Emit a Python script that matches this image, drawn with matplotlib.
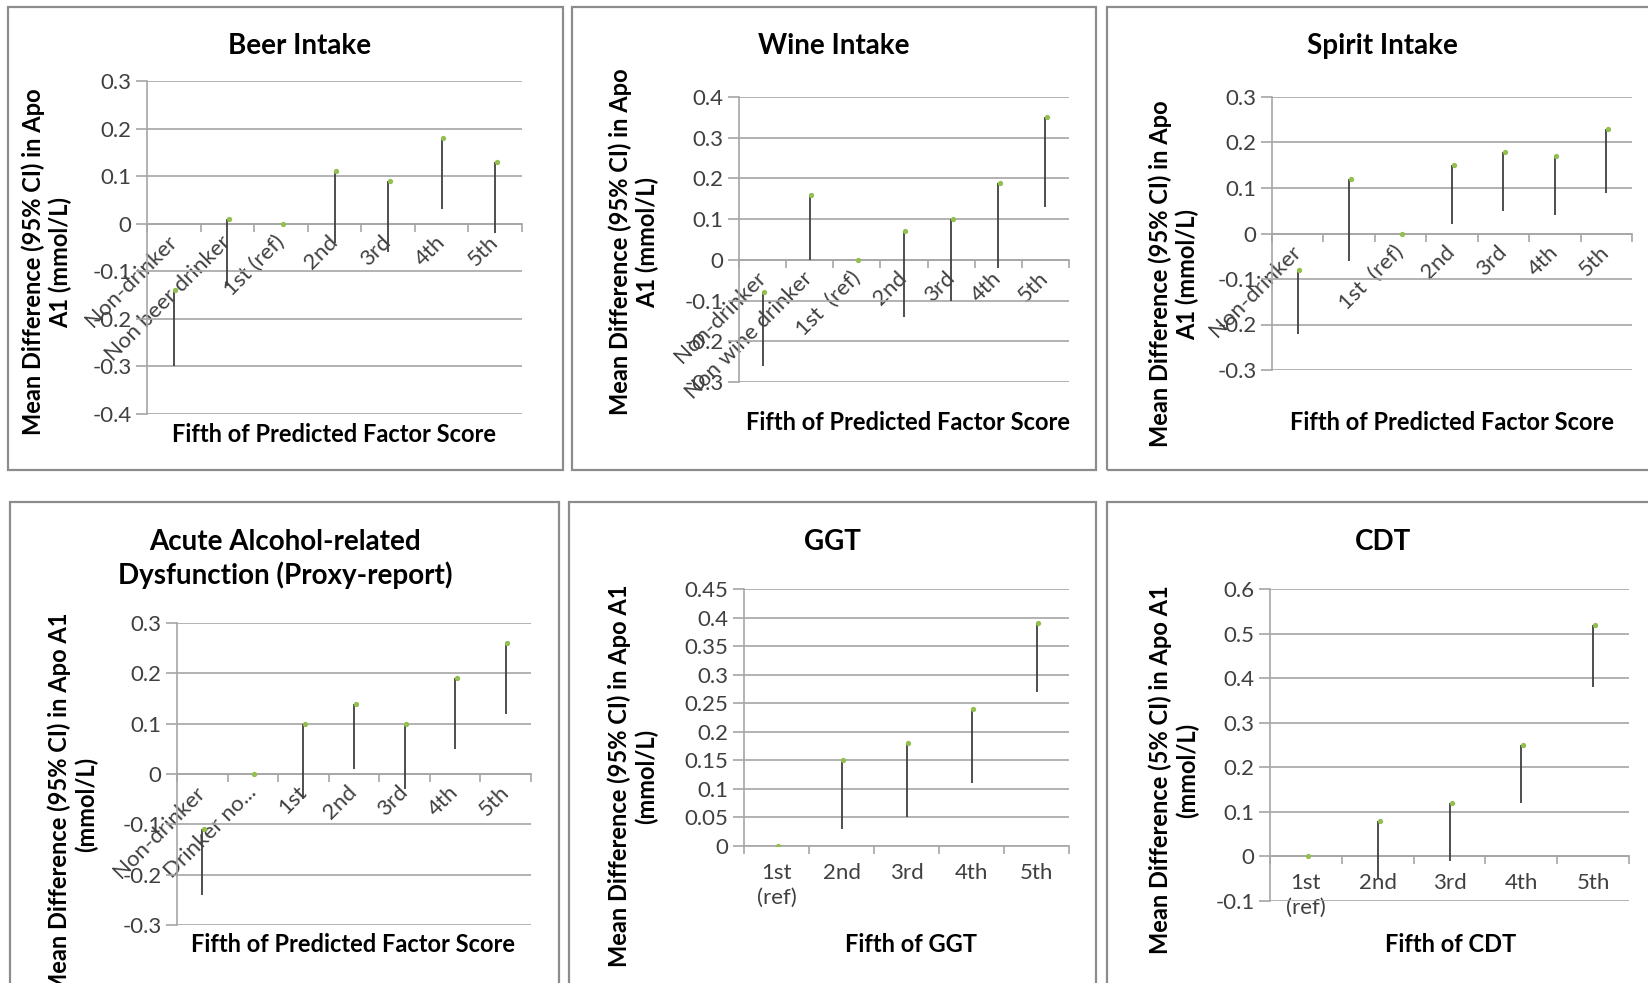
import numpy as np
import matplotlib
matplotlib.use("Agg")
import matplotlib.pyplot as plt
from matplotlib.patches import Rectangle
from matplotlib.ticker import FixedLocator, NullFormatter

plt.rcParams['font.family'] = ['Lato', 'DejaVu Sans']

W, H = 1648, 983

# ---- data ----
beer_cats = ["Non-drinker", "Non beer drinker", "1st (ref)", "2nd", "3rd", "4th", "5th"]
beer_high = [-0.14, 0.01, 0.0, 0.11, 0.09, 0.18, 0.13]
beer_low = [-0.30, -0.13, 0.0, -0.04, -0.06, 0.03, -0.02]

wine_cats = ["Non-drinker", "Non wine drinker", "1st  (ref)", "2nd", "3rd", "4th", "5th"]
wine_high = [-0.08, 0.16, 0.0, 0.07, 0.10, 0.19, 0.35]
wine_low = [-0.26, 0.0, 0.0, -0.14, -0.10, -0.02, 0.13]

spirit_cats = ["Non-drinker", "", "1st  (ref)", "2nd", "3rd", "4th", "5th"]
spirit_high = [-0.08, 0.12, 0.0, 0.15, 0.18, 0.17, 0.23]
spirit_low = [-0.22, -0.06, 0.0, 0.02, 0.05, 0.04, 0.09]

acute_cats = ["Non-drinker", "Drinker no...", "1st", "2nd", "3rd", "4th", "5th"]
acute_high = [-0.11, 0.0, 0.10, 0.14, 0.10, 0.19, 0.26]
acute_low = [-0.24, 0.0, -0.05, 0.01, -0.03, 0.05, 0.12]

ggt_cats = ["1st\n(ref)", "2nd", "3rd", "4th", "5th"]
ggt_high = [0.0, 0.15, 0.18, 0.24, 0.39]
ggt_low = [0.0, 0.03, 0.05, 0.11, 0.27]

cdt_cats = ["1st\n(ref)", "2nd", "3rd", "4th", "5th"]
cdt_high = [0.0, 0.08, 0.12, 0.25, 0.52]
cdt_low = [0.0, -0.05, -0.01, 0.12, 0.38]

YL_95 = "Mean Difference (95% CI) in Apo\nA1 (mmol/L)"
YL_95b = "Mean Difference (95% CI) in Apo A1\n(mmol/L)"
YL_5 = "Mean Difference (5% CI) in Apo A1\n(mmol/L)"
XL_FS = "Fifth of Predicted Factor Score"

GRID = "#a6a6a6"
LINE = "#404040"
GREEN = "#92c050"
TXT = "#404040"

fig = plt.figure(figsize=(W / 100, H / 100), dpi=100)


def px_text(x, y, s, **kw):
    fig.text(x / W, 1 - y / H, s, **kw)


def panel(box, plot, title, title_xy, ylabel, ylabel_xy, xlabel, xlabel_xy,
          cats, high, low, yticks, rotated=True):
    # outer frame
    x0, y0, x1, y1 = box
    fig.patches.append(Rectangle((x0 / W, 1 - y1 / H), (x1 - x0) / W, (y1 - y0) / H,
                                 transform=fig.transFigure, fill=False,
                                 edgecolor="#8c8c8c", linewidth=1.6))
    l, t, r, b = plot
    ax = fig.add_axes([l / W, 1 - b / H, (r - l) / W, (b - t) / H])
    n = len(cats)
    x = np.arange(n) + 0.5
    ax.vlines(x, low, high, color=LINE, linewidth=1.3, zorder=3)
    ax.plot(x + 0.03, high, linestyle="none", marker="o", markersize=2.8,
            color=GREEN, zorder=4)
    ax.set_xlim(0, n)
    ax.set_ylim(yticks[0], yticks[-1])
    ax.set_yticks(yticks)
    ax.set_yticklabels(["0" if v == 0 else "%g" % v for v in yticks])
    ax.grid(axis="y", color=GRID, linewidth=1.2)
    ax.set_axisbelow(True)
    for s in ("top", "right"):
        ax.spines[s].set_visible(False)
    ax.spines["left"].set_color(GRID)
    ax.spines["left"].set_linewidth(1.2)
    ax.spines["bottom"].set_position(("data", 0))
    ax.spines["bottom"].set_color(GRID)
    ax.spines["bottom"].set_linewidth(1.2)
    ax.tick_params(axis="y", length=8, color=GRID, width=1.2, labelsize=16,
                   labelcolor=TXT, pad=3)
    # tick marks at category boundaries, labels at category centres
    ax.xaxis.set_major_locator(FixedLocator(np.arange(n + 1)))
    ax.xaxis.set_major_formatter(NullFormatter())
    ax.xaxis.set_minor_locator(FixedLocator(x))
    ax.tick_params(axis="x", which="major", length=6, color=GRID, width=1.2)
    ax.tick_params(axis="x", which="minor", length=0, labelsize=16, labelcolor=TXT)
    if rotated:
        ax.set_xticklabels(cats, minor=True, rotation=45, ha="right", va="center",
                           rotation_mode="anchor")
        ax.tick_params(axis="x", which="minor", pad=11)
    else:
        ax.set_xticklabels(cats, minor=True, linespacing=1.3)
        ax.tick_params(axis="x", which="minor", pad=12)
    px_text(*title_xy, title, fontsize=20, fontweight="bold", color="black",
            ha="center", va="center", linespacing=1.3)
    px_text(*ylabel_xy, ylabel, fontsize=17, fontweight="bold", color="black",
            ha="center", va="center", rotation=90, multialignment="center",
            linespacing=1.2)
    px_text(*xlabel_xy, xlabel, fontsize=17, fontweight="bold", color="black",
            ha="center", va="center")
    return ax


panel((8, 7, 563, 470), (147, 81, 522, 414), "Beer Intake", (300, 46),
      YL_95, (47, 262), XL_FS, (334, 434),
      beer_cats, beer_high, beer_low, [-0.4, -0.3, -0.2, -0.1, 0, 0.1, 0.2, 0.3])

panel((572, 7, 1096, 470), (739, 97, 1069, 382), "Wine Intake", (834, 46),
      YL_95, (634, 242), XL_FS, (908, 422),
      wine_cats, wine_high, wine_low, [-0.3, -0.2, -0.1, 0, 0.1, 0.2, 0.3, 0.4])

panel((1107, 7, 1680, 470), (1272, 97, 1632, 370), "Spirit Intake", (1382, 46),
      YL_95, (1174, 274), XL_FS, (1452, 422),
      spirit_cats, spirit_high, spirit_low, [-0.3, -0.2, -0.1, 0, 0.1, 0.2, 0.3])

panel((10, 502, 559, 1010), (177, 623, 531, 925),
      "Acute Alcohol-related\nDysfunction (Proxy-report)", (285, 559),
      YL_95b, (73, 804), XL_FS, (353, 944),
      acute_cats, acute_high, acute_low, [-0.3, -0.2, -0.1, 0, 0.1, 0.2, 0.3])

panel((569, 502, 1096, 1010), (744, 589, 1069, 846), "GGT", (832, 542),
      YL_95b, (633, 776), "Fifth of GGT", (911, 944),
      ggt_cats, ggt_high, ggt_low,
      [0, 0.05, 0.1, 0.15, 0.2, 0.25, 0.3, 0.35, 0.4, 0.45], rotated=False)

panel((1107, 502, 1680, 1010), (1270, 589, 1629, 901), "CDT", (1383, 542),
      YL_5, (1174, 770), "Fifth of CDT", (1451, 944),
      cdt_cats, cdt_high, cdt_low, [-0.1, 0, 0.1, 0.2, 0.3, 0.4, 0.5, 0.6],
      rotated=False)

fig.savefig("out.png", dpi=100)
